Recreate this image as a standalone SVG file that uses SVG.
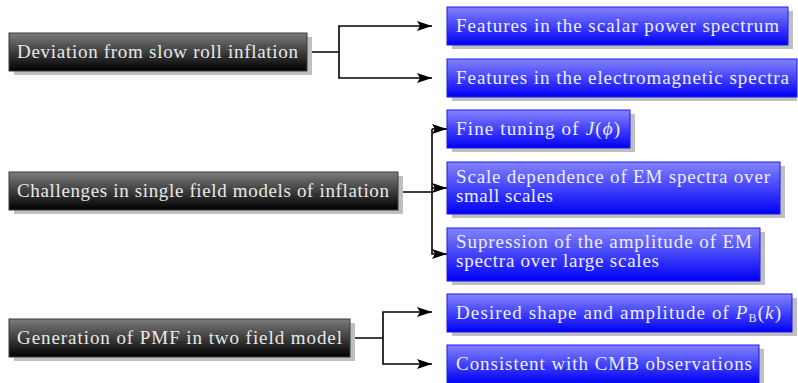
<svg xmlns="http://www.w3.org/2000/svg" width="798" height="383" viewBox="0 0 798 383">
<style>
.sh{fill:#bfbfbf}
.dk{fill:url(#gd);stroke:#3a3a3a;stroke-width:1}
.bl{fill:url(#gb);stroke:#1a1aee;stroke-width:1}
text{font-family:'Liberation Serif','Times New Roman',serif;font-size:19px}
.td{fill:#e8e8e8}
.tb{fill:#eeeeff}
.c{fill:none;stroke:#000;stroke-width:1.6}
</style>
<defs>
<linearGradient id="gd" x1="0" y1="0" x2="0" y2="1"><stop offset="0" stop-color="#7c7c7c"/><stop offset="1" stop-color="#000"/></linearGradient>
<linearGradient id="gb" x1="0" y1="0" x2="0" y2="1"><stop offset="0" stop-color="#8484ff"/><stop offset="1" stop-color="#0000f5"/></linearGradient>
<marker id="ah" markerUnits="userSpaceOnUse" markerWidth="16" markerHeight="12" refX="15" refY="5" orient="auto"><path d="M0,0 L15,5 L0,10 L3,5 Z" fill="#000"/></marker>
</defs>
<g id="connectors">
<path class="c" d="M307,52 H339 V26 H432" marker-end="url(#ah)"/>
<path class="c" d="M339,52 V78 H432" marker-end="url(#ah)"/>
<path class="c" d="M398,192 H432 V129"/>
<path class="c" d="M432,129 H447" marker-end="url(#ah)"/>
<path class="c" d="M432,188 H447" marker-end="url(#ah)"/>
<path class="c" d="M432,192 V254 H447" marker-end="url(#ah)"/>
<path class="c" d="M350,338 H383 V312 H432" marker-end="url(#ah)"/>
<path class="c" d="M383,338 V364 H432" marker-end="url(#ah)"/>
</g>
<g id="n1"><rect class="sh" x="14" y="37" width="298" height="38"/><rect class="dk" x="9" y="33" width="298" height="38"/><text class="td" x="17" y="57.5" textLength="281" lengthAdjust="spacing">Deviation from slow roll inflation</text></g>
<g id="n2"><rect class="sh" x="14" y="176" width="389" height="38"/><rect class="dk" x="9" y="172" width="389" height="38"/><text class="td" x="17" y="196.5" textLength="372" lengthAdjust="spacing">Challenges in single field models of inflation</text></g>
<g id="n3"><rect class="sh" x="14" y="323" width="341" height="38"/><rect class="dk" x="9" y="319" width="341" height="38"/><text class="td" x="17" y="343.5" textLength="325" lengthAdjust="spacing">Generation of PMF in two field model</text></g>
<g id="r1"><rect class="sh" x="452" y="11" width="341" height="38"/><rect class="bl" x="447" y="7" width="341" height="38"/><text class="tb" x="456" y="32" textLength="323" lengthAdjust="spacing">Features in the scalar power spectrum</text></g>
<g id="r2"><rect class="sh" x="452" y="63" width="345" height="38"/><rect class="bl" x="447" y="59" width="350" height="38"/><text class="tb" x="456" y="84" textLength="333" lengthAdjust="spacing">Features in the electromagnetic spectra</text></g>
<g id="r3"><rect class="sh" x="452" y="114" width="183" height="38"/><rect class="bl" x="447" y="110" width="183" height="38"/><text class="tb" x="456" y="135" textLength="164" lengthAdjust="spacing">Fine tuning of <tspan font-style="italic">J</tspan>(<tspan font-style="italic">ϕ</tspan>)</text></g>
<g id="r4"><rect class="sh" x="452" y="166" width="333" height="52"/><rect class="bl" x="447" y="162" width="333" height="52"/><text class="tb" x="456" y="183" textLength="314" lengthAdjust="spacing">Scale dependence of EM spectra over</text><text class="tb" x="456" y="202" textLength="97" lengthAdjust="spacing">small scales</text></g>
<g id="r5"><rect class="sh" x="452" y="232" width="313" height="53"/><rect class="bl" x="447" y="228" width="313" height="53"/><text class="tb" x="456" y="248" textLength="296" lengthAdjust="spacing">Supression of the amplitude of EM</text><text class="tb" x="456" y="267" textLength="203" lengthAdjust="spacing">spectra over large scales</text></g>
<g id="r6"><rect class="sh" x="452" y="298" width="345" height="38"/><rect class="bl" x="447" y="294" width="345" height="38"/><text class="tb" x="456" y="319" textLength="325" lengthAdjust="spacing">Desired shape and amplitude of <tspan font-style="italic">P</tspan><tspan font-size="12" dy="3">B</tspan><tspan dy="-3">(</tspan><tspan font-style="italic">k</tspan>)</text></g>
<g id="r7"><rect class="sh" x="452" y="349" width="312" height="38"/><rect class="bl" x="447" y="345" width="312" height="38"/><text class="tb" x="456" y="370" textLength="296" lengthAdjust="spacing">Consistent with CMB observations</text></g>
</svg>
